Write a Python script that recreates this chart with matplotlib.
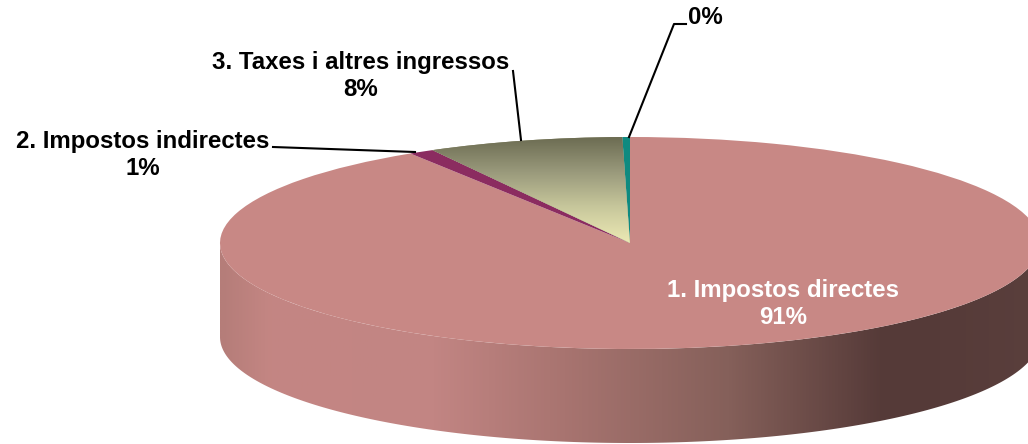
import numpy as np
import matplotlib
matplotlib.use("Agg")
import matplotlib.pyplot as plt
from matplotlib.colors import LinearSegmentedColormap
from matplotlib.patches import Polygon

plt.rcParams["font.family"] = ["Liberation Sans", "DejaVu Sans"]

W, H = 1028, 444

labels = ["1. Impostos directes", "2. Impostos indirectes", "3. Taxes i altres ingressos", ""]
shares = [91.0, 1.0, 7.7, 0.3]
percent_text = ["91%", "1%", "8%", "0%"]
colors = ["#c88885", "#8b2c60", "#8a8a68", "#0f8a80"]

# pixel geometry of the flattened pie
cx, cy = 630, 243
rx, ry = 410, 106
depth = 94

fig = plt.figure(figsize=(W / 100, H / 100), dpi=100)
bg = fig.add_axes([0, 0, 1, 1])
bg.set_xlim(0, W)
bg.set_ylim(H, 0)
bg.axis("off")

# rim of the pie, below the top face
side_cmap = LinearSegmentedColormap.from_list("side", [
    (0.0, "#b57d79"), (0.06, "#c48683"), (0.26, "#c28583"), (0.42, "#a87470"),
    (0.62, "#85605a"), (0.81, "#553a38"), (0.88, "#563b39"), (1.0, "#5a3f3c"),
])
grad = np.linspace(0, 1, 512).reshape(1, -1)
im = bg.imshow(grad, cmap=side_cmap, extent=[cx - rx, cx + rx, cy + ry + depth, cy - ry],
               aspect="auto", zorder=1)
t = np.linspace(0, np.pi, 200)
xs = cx + rx * np.cos(t)
low = cy + depth + ry * np.sin(t)
up = cy + ry * np.sin(t)
rim = Polygon(np.r_[np.c_[xs, low], np.c_[xs[::-1], up[::-1]]], transform=bg.transData, fc="none", ec="none")
bg.add_patch(rim)
im.set_clip_path(rim)
bg.set_xlim(0, W)
bg.set_ylim(H, 0)

# top face: a normal pie squashed by the axes box
top = fig.add_axes([(cx - rx) / W, 1 - (cy + ry) / H, 2 * rx / W, 2 * ry / H])
top.patch.set_alpha(0)
wedges, _ = top.pie(shares, colors=colors, startangle=90, counterclock=False, radius=1)
top.set_aspect("auto")
for w in wedges:
    w.set_linewidth(0)

# slice 3 fades from olive at the top to pale yellow at the point
olive = LinearSegmentedColormap.from_list("olive", ["#6c6c52", "#9a9a7c", "#c8c89c", "#ece9b4"])
fade = top.imshow(np.linspace(0, 1, 256).reshape(-1, 1), cmap=olive, extent=[-0.6, 0.05, 0, 1],
                  origin="upper", aspect="auto", zorder=3)
fade.set_clip_path(wedges[2])
top.set_xlim(-1, 1)
top.set_ylim(-1, 1)

# labels and leader lines go on their own layer, above the pie
over = fig.add_axes([0, 0, 1, 1])
over.patch.set_alpha(0)
over.set_xlim(0, W)
over.set_ylim(H, 0)
over.axis("off")

bold = dict(fontsize=17.3, fontweight="bold", ha="center", va="center", linespacing=1.22)
over.text(783, 304, labels[0] + "\n" + percent_text[0], color="white", **bold)
over.text(143, 155, labels[1] + "\n" + percent_text[1], color="black", **bold)
over.text(361, 76, labels[2] + "\n" + percent_text[2], color="black", **bold)
over.text(705, 17, percent_text[3], color="black", **bold)

over.plot([273, 415], [147, 152], color="black", lw=1.5)
over.plot([513, 521], [71, 140], color="black", lw=1.5)
over.plot([629, 674, 686], [137, 24, 24], color="black", lw=1.5)

fig.savefig("out.png", dpi=100)
